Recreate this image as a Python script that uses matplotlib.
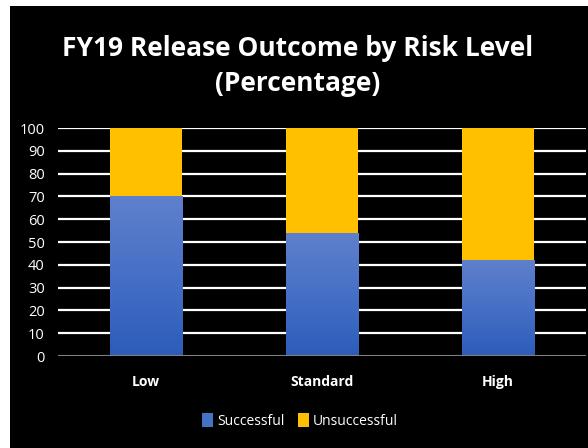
import matplotlib
matplotlib.use("Agg")
import matplotlib.pyplot as plt
import numpy as np
from matplotlib.patches import Rectangle, Patch
from matplotlib.colors import LinearSegmentedColormap

categories = ["Low", "Standard", "High"]
successful = [70, 54, 42]
unsuccessful = [30, 46, 58]
series_names = ["Successful", "Unsuccessful"]
yticks = list(range(0, 101, 10))

FONT = ["Open Sans", "DejaVu Sans"]
plt.rcParams['font.family'] = FONT

fig = plt.figure(figsize=(5.88, 4.48), dpi=100)
fig.patch.set_facecolor("white")
# black panel (white strip left and top)
fig.patches.append(Rectangle((10/588, 0), 1, (448-6)/448, transform=fig.transFigure,
                             facecolor="black", edgecolor="none", zorder=-5))

ax = fig.add_axes([58/588, 92/448, 528/588, 228/448])
ax.set_zorder(2)
ax.set_facecolor("black")
x = np.arange(len(categories))
w = 0.41
b1 = ax.bar(x, successful, width=w, color="#4472C4", zorder=2)
b2 = ax.bar(x, unsuccessful, width=w, bottom=successful, color="#FFC000", zorder=2)

cmap = LinearSegmentedColormap.from_list("g", ["#2c5cba", "#4670c6", "#5f80cc"])
grad = np.linspace(0, 1, 256).reshape(-1, 1)
for p in b1.patches:
    x0, y0 = p.get_x(), p.get_y()
    im = ax.imshow(grad, cmap=cmap, aspect="auto", origin="lower",
                   extent=[x0, x0 + p.get_width(), y0, y0 + p.get_height()], zorder=2.5)
    im.set_clip_path(p)

ax.set_xlim(-0.5, 2.5)
ax.set_ylim(0, 100)
ax.set_yticks(yticks)
ax.set_yticklabels([str(t) for t in yticks], color="white", fontsize=10.5)
ax.set_xticks(x)
ax.set_xticklabels(categories, color="white", fontsize=10, fontweight="bold")
ax.tick_params(axis="both", length=0)
ax.tick_params(axis="x", pad=13.5)
ax.tick_params(axis="y", pad=9.5)
for t in yticks[1:]:
    ax.axhline(t, color="white", lw=1.6, zorder=1)
ax.axhline(0, color="#808080", lw=1.5, zorder=3)
for s in ax.spines.values():
    s.set_visible(False)

fig.text(298/588, 1 - 48/448, "FY19 Release Outcome by Risk Level", color="white",
         fontsize=19, fontweight="bold", ha="center", va="center", zorder=5)
fig.text(298/588, 1 - 83/448, "(Percentage)", color="white",
         fontsize=19, fontweight="bold", ha="center", va="center", zorder=5)

handles = [Patch(facecolor="#4472C4"), Patch(facecolor="#FFC000")]
leg = fig.legend(handles, series_names, loc="center", bbox_to_anchor=(300/588, 1 - 421/448),
                 ncol=2, frameon=False, fontsize=10, handlelength=0.75, handleheight=1.2,
                 handletextpad=0.3, columnspacing=1.0)
leg.set_zorder(5)
for t in leg.get_texts():
    t.set_color("white")

fig.savefig("out.png", dpi=100, facecolor=fig.get_facecolor())
